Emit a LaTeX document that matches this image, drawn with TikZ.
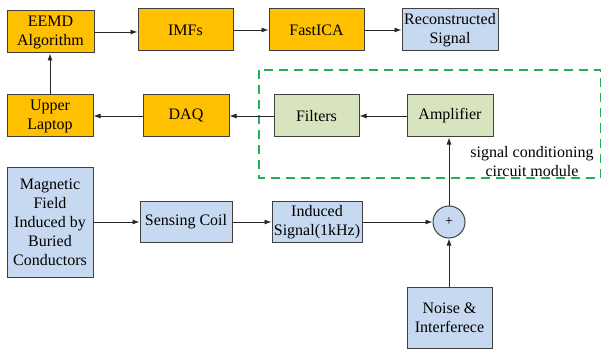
\documentclass[tikz,border=0pt]{standalone}
\usepackage{fontspec}
\setmainfont{Liberation Serif}
\usetikzlibrary{arrows.meta}
\definecolor{boxorange}{HTML}{FFC000}
\definecolor{boxblue}{HTML}{C6D9F1}
\definecolor{boxgreen}{HTML}{D7E4BD}
\definecolor{edgegray}{HTML}{404040}
\definecolor{modgreen}{HTML}{22B15A}
\tikzset{
  blk/.style={draw=edgegray, line width=1pt, inner sep=0pt, align=center,
    font=\fontsize{16}{19}\selectfont},
  orangeblk/.style={blk, fill=boxorange},
  blueblk/.style={blk, fill=boxblue},
  greenblk/.style={blk, fill=boxgreen},
  flow/.style={draw=black!85, line width=0.9pt, -{Latex[length=7pt,width=5pt]}},
  sumnode/.style={circle, draw=edgegray, line width=1pt, fill=boxblue,
    minimum size=32pt, inner sep=0pt, font=\fontsize{14}{16}\selectfont},
}
\begin{document}
\begin{tikzpicture}[x=1pt,y=-1pt]
\useasboundingbox (0,0) rectangle (602,350);

% signal conditioning module frame
\draw[modgreen, line width=1.5pt, dash pattern=on 9pt off 6pt]
  (259,70) rectangle (600.5,178);
\node[font=\fontsize{16}{19}\selectfont, align=center, inner sep=0pt]
  (modlabel) at (532,162) {signal conditioning\\circuit module};

% processing chain
\node[orangeblk, minimum width=87pt, minimum height=42pt] (eemd) at (50.5,32) {EEMD\\Algorithm};
\node[orangeblk, minimum width=95pt, minimum height=42pt] (imfs) at (185.5,30) {IMFs};
\node[orangeblk, minimum width=95pt, minimum height=42pt] (ica) at (316.5,30) {FastICA};
\node[blueblk, minimum width=96pt, minimum height=42pt] (recon) at (450,30) {Reconstructed\\Signal};

\node[orangeblk, minimum width=86pt, minimum height=42pt] (laptop) at (50,116) {Upper\\Laptop};
\node[orangeblk, minimum width=86pt, minimum height=42pt] (daq) at (186,116) {DAQ};
\node[greenblk, minimum width=85pt, minimum height=42pt] (filt) at (316.5,116) {Filters};
\node[greenblk, minimum width=86pt, minimum height=42pt] (amp) at (450,116) {Amplifier};

% sensing chain
\node[blueblk, minimum width=86pt, minimum height=110pt] (field) at (50,222)
  {Magnetic\\Field\\Induced by\\Buried\\Conductors};
\node[blueblk, minimum width=92pt, minimum height=41pt] (coil) at (186,222) {Sensing Coil};
\node[blueblk, minimum width=90pt, minimum height=41pt] (induced) at (317,222) {Induced\\Signal(1kHz)};
\node[sumnode] (sum) at (449,222) {+};
\node[blueblk, minimum width=85pt, minimum height=61pt] (noise) at (449.5,317.5) {Noise \&\\Interferece};

% connectors
\draw[flow] (eemd) -- (imfs.west |- eemd);
\draw[flow] (imfs) -- (ica);
\draw[flow] (ica) -- (recon);
\draw[flow] (laptop) -- (laptop |- eemd.south);
\draw[flow] (daq) -- (laptop);
\draw[flow] (filt) -- (daq);
\draw[flow] (amp) -- (filt);
\draw[flow] (sum) -- (sum |- amp.south);
\draw[flow] (field) -- (coil);
\draw[flow] (coil) -- (induced);
\draw[flow] (induced) -- (sum);
\draw[flow] (noise.north -| sum) -- (sum);
\end{tikzpicture}
\end{document}
